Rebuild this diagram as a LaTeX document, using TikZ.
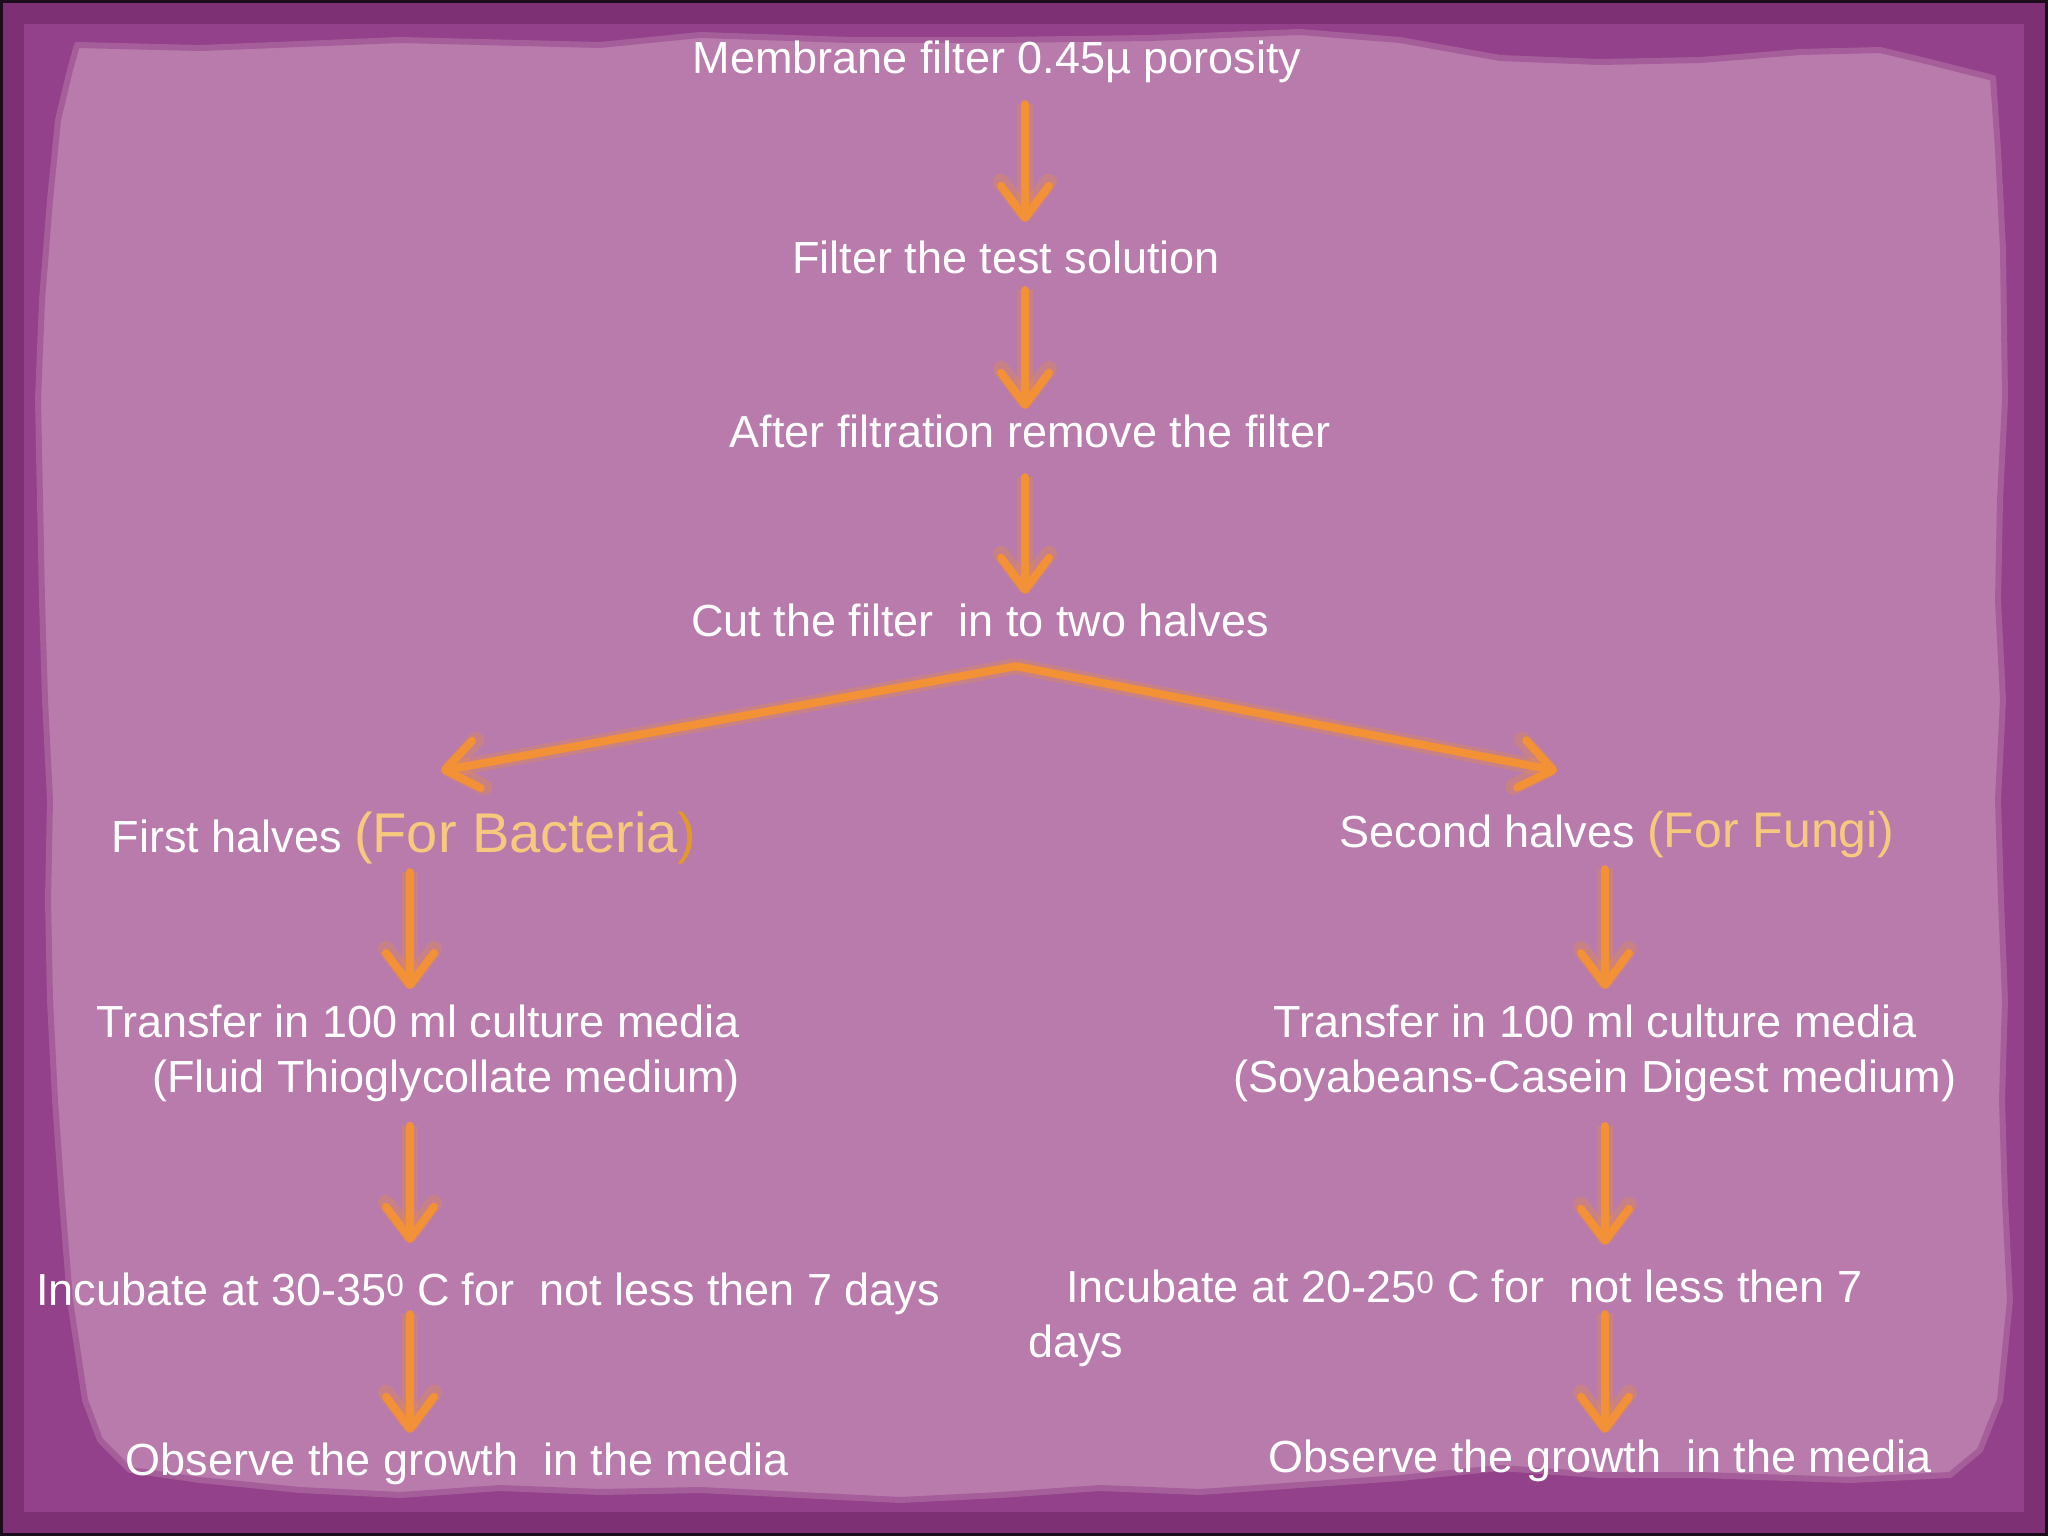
\documentclass[tikz,border=0pt]{standalone}
\usepackage{fontspec}
\setmainfont{Liberation Sans}
\usetikzlibrary{arrows.meta,calc}
\definecolor{framec}{HTML}{93418A}
\definecolor{framedark}{HTML}{7E3074}
\definecolor{paperc}{HTML}{B87BAC}
\definecolor{rimc}{HTML}{A55E99}
\definecolor{arrowc}{HTML}{F39136}
\definecolor{tanc}{HTML}{F7C97E}
\definecolor{darkor}{HTML}{E3982B}
\tikzset{
  txt/.style={text=white, inner sep=0pt, font=\fontsize{45}{55}\selectfont},
  one/.style={txt, text height=38pt, text depth=5pt},
  arr/.style={draw=arrowc, line width=8pt, line cap=round, line join=round,
    -{Straight Barb[length=32pt,width=48pt,line cap=round,line join=round]},
    preaction={draw=arrowc, draw opacity=0.3, line width=16pt}},
}
\begin{document}
\begin{tikzpicture}[x=1pt,y=-1pt]
\useasboundingbox (0,0) rectangle (2048,1536);
% background frame
\fill[framec] (0,0) rectangle (2048,1536);
\draw[framedark, line width=24pt] (12,12) rectangle (2036,1524);
\draw[black!80!framec, line width=3pt] (1.5,1.5) rectangle (2046.5,1534.5);
% paper
\filldraw[fill=paperc, draw=rimc, line width=6pt, line join=round]
 (77,45) -- (200,48) -- (400,40) -- (600,45) -- (700,35) -- (850,40) -- (1000,40)
 -- (1150,38) -- (1300,32) -- (1400,40) -- (1500,58) -- (1600,62) -- (1700,60)
 -- (1800,52) -- (1880,50) -- (1930,62) -- (1993,78) -- (1998,150) -- (2003,250)
 -- (2005,400) -- (2000,500) -- (1998,600) -- (2003,700) -- (1998,800) -- (2001,900)
 -- (2005,1000) -- (2002,1100) -- (2005,1200) -- (2010,1300) -- (2000,1400)
 -- (1980,1450) -- (1950,1475) -- (1850,1480) -- (1700,1475) -- (1600,1475)
 -- (1500,1468) -- (1400,1478) -- (1300,1485) -- (1200,1492) -- (1100,1488)
 -- (1000,1495) -- (900,1500) -- (800,1495) -- (700,1490) -- (600,1492)
 -- (500,1488) -- (400,1495) -- (300,1490) -- (200,1480) -- (130,1470)
 -- (100,1440) -- (85,1400) -- (70,1300) -- (62,1200) -- (55,1100) -- (50,1000)
 -- (48,900) -- (50,800) -- (45,700) -- (42,600) -- (40,500) -- (38,400)
 -- (42,300) -- (50,200) -- (58,120) -- (70,70) -- cycle;

% texts
\node[one] (n1) at (997,57) {Membrane filter 0.45µ porosity};
\node[one] (n2) at (1006,257) {Filter the test solution};
\node[one] (n3) at (1030,431) {After filtration remove the filter};
\node[one] (n4) at (980,620) {Cut the filter\ \ in to two halves};
\node[one] (n5) at (404,836) {First halves {\fontsize{56}{60}\selectfont\color{tanc}(For Bacteria}{\fontsize{56}{60}\selectfont\color{darkor})}};
\node[one] (n6) at (1617,831) {Second halves {\fontsize{50}{55}\selectfont\color{tanc}(For Fungi)}};
\node[txt, align=right, anchor=north east] (n7) at (740,1004.5) {Transfer in 100 ml culture media\\(Fluid Thioglycollate medium)};
\node[txt, align=center, anchor=north] (n8) at (1595,1004.5) {Transfer in 100 ml culture media\\(Soyabeans-Casein Digest medium)};
\node[one] (n9) at (488,1289) {Incubate at 30-35\textsuperscript{0} C for\ \ not less then 7 days};
\node[one, anchor=west] (n10) at (1066,1286) {Incubate at 20-25\textsuperscript{0} C for\ \ not less then 7};
\node[one, anchor=west] (n10b) at (1028,1341) {days};
\node[one] (n11) at (457,1459) {Observe the growth\ \ in the media};
\node[one] (n12) at (1600,1456) {Observe the growth\ \ in the media};

% arrows
\draw[arr, shorten <=25.5pt, shorten >=13.5pt] ([xshift=28pt]n1.south) -- ([xshift=19pt]n2.north);
\draw[arr, shorten <=11.5pt, shorten >=0.5pt] ([xshift=19pt]n2.south) -- ([xshift=-5pt]n3.north);
\draw[arr, shorten <=24.5pt, shorten >=4.5pt] ([xshift=-5pt]n3.south) -- ([xshift=45pt]n4.north);
\coordinate (split) at ([xshift=36pt,yshift=-24.5pt]n4.south);
\draw[arr] (split) -- ([xshift=37pt,yshift=43.5pt]n5.north);
\draw[arr] (split) -- ([xshift=-60pt,yshift=38.5pt]n6.north);
% left column
\draw[arr, shorten <=14.5pt, shorten >=15.5pt] ([xshift=6pt]n5.south) -- ([xshift=-330pt]n7.north east);
\draw[arr, shorten <=24pt, shorten >=24.5pt] ([xshift=-330pt]n7.south east) -- ([xshift=-78pt]n9.north);
\draw[arr, shorten <=3.5pt, shorten >=4.5pt] ([xshift=-78pt]n9.south) -- ([xshift=-47pt]n11.north);
% right column
\draw[arr, shorten <=16.5pt, shorten >=15.5pt] ([xshift=-12pt]n6.south) -- ([xshift=10pt]n8.north);
\draw[arr, shorten <=24pt, shorten >=19.5pt] ([xshift=10pt]n8.south) -- ([xshift=539pt]n10.north west);
\draw[arr, shorten <=6.5pt, shorten >=1.5pt] ([xshift=539pt]n10.south west) -- ([xshift=5pt]n12.north);
\end{tikzpicture}
\end{document}
